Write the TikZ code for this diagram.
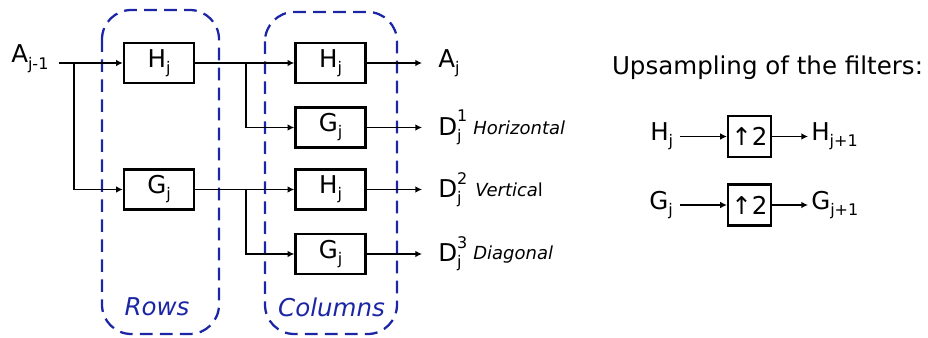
\documentclass[tikz,border=0pt]{standalone}
\usepackage{fontspec}
\setmainfont{DejaVu Sans}
\usetikzlibrary{arrows.meta}
\definecolor{groupblue}{RGB}{28,38,165}
% subscript, and stacked subscript/superscript
\newcommand\sbs[1]{\raisebox{-0.45ex}{\fontsize{12}{13}\selectfont #1}}
\newcommand\sbsp[2]{\makebox[0pt][l]{\raisebox{-0.45ex}{\fontsize{12}{13}\selectfont #1}}\raisebox{1.0ex}{\fontsize{12}{13}\selectfont #2}}
\begin{document}
\begin{tikzpicture}[x=0.75pt,y=-0.75pt,
  font=\fontsize{18.4}{21}\selectfont,
  filt/.style={draw,line width=1.9pt,minimum width=52.5pt,minimum height=30pt,inner sep=0pt},
  upbox/.style={draw,line width=1.9pt,minimum width=32pt,minimum height=30.5pt,inner sep=0pt},
  arr/.style={-{Latex[length=5pt,width=5pt]},line width=1.2pt},
  group/.style={draw=groupblue,line width=1.7pt,dash pattern=on 9.5pt off 5.5pt,rounded corners=22pt},
  grouplabel/.style={text=groupblue,font=\fontsize{18.4}{21}\selectfont\itshape},
  lbl/.style={inner sep=0pt,anchor=west},
  note/.style={inner sep=0pt,anchor=west,font=\fontsize{13.5}{15}\selectfont\itshape}]
\useasboundingbox (0,0) rectangle (928,338);

% dashed groups: row filtering, then column filtering
\draw[group] (102,10) rectangle (219,334);
\draw[group] (265,12) rectangle (397,334);
\node[grouplabel] (rows) at (157,307) {Rows};
\node[grouplabel] (cols) at (331.5,307) {Columns};

% input
\node[inner sep=0pt,anchor=base west] (ain) at (11,63) {A\sbs{j-1}};
\coordinate (in) at (59,63);
\coordinate (b0) at (74,63);

% row filters
\node[filt] (rh) at (159,63) {H\sbs{j}};
\node[filt] (rg) at (159,189.5) {G\sbs{j}};
\draw[arr] (in) -- (rh);
\draw[arr] (b0) |- (rg);

% column filters
\node[filt] (ch1) at (330.5,63) {H\sbs{j}};
\node[filt] (cg1) at (330.5,127.5) {G\sbs{j}};
\node[filt] (ch2) at (330.5,189.5) {H\sbs{j}};
\node[filt] (cg2) at (330.5,254) {G\sbs{j}};
\coordinate (b1) at (246,63);
\coordinate (b2) at (246,189.5);
\draw[arr] (rh) -- (ch1);
\draw[arr] (b1) |- (cg1);
\draw[arr] (rg) -- (ch2);
\draw[arr] (b2) |- (cg2);

% outputs
\coordinate (o1) at (422,63);
\coordinate (o2) at (422,127.5);
\coordinate (o3) at (422,189.5);
\coordinate (o4) at (422,254);
\draw[arr] (ch1) -- (o1);
\draw[arr] (cg1) -- (o2);
\draw[arr] (ch2) -- (o3);
\draw[arr] (cg2) -- (o4);
\node[lbl] (aout) at (438,63) {A\sbs{j}};
\node[lbl] (d1) at (438,127.5) {D\sbsp{j}{1}};
\node[lbl] (d2) at (438,189.5) {D\sbsp{j}{2}};
\node[lbl] (d3) at (438,254) {D\sbsp{j}{3}};
\node[note] (horiz) at (473,128) {Horizontal};
\node[note] (vert) at (475,190) {\textit{Vertica}\upshape l};
\node[note] (diag) at (473,255) {Diagonal};

% upsampling of the filters
\node[inner sep=0pt] (title) at (767.5,68) {Upsampling of the filters:};
\node[upbox] (u1) at (749.5,136.5) {↑2};
\node[upbox] (u2) at (749.5,205) {↑2};
\node[lbl] (hin) at (650,136.5) {H\sbs{j}};
\node[lbl] (gin) at (649,205) {G\sbs{j}};
\coordinate (hi) at (680,136.5);
\coordinate (gi) at (680,205);
\coordinate (ho) at (808,136.5);
\coordinate (go) at (808,205);
\draw[arr] (hi) -- (u1);
\draw[arr] (gi) -- (u2);
\draw[arr] (u1) -- (ho);
\draw[arr] (u2) -- (go);
\node[lbl] (hout) at (811,136.5) {H\sbs{j+1}};
\node[lbl] (gout) at (811,205) {G\sbs{j+1}};
\end{tikzpicture}
\end{document}
